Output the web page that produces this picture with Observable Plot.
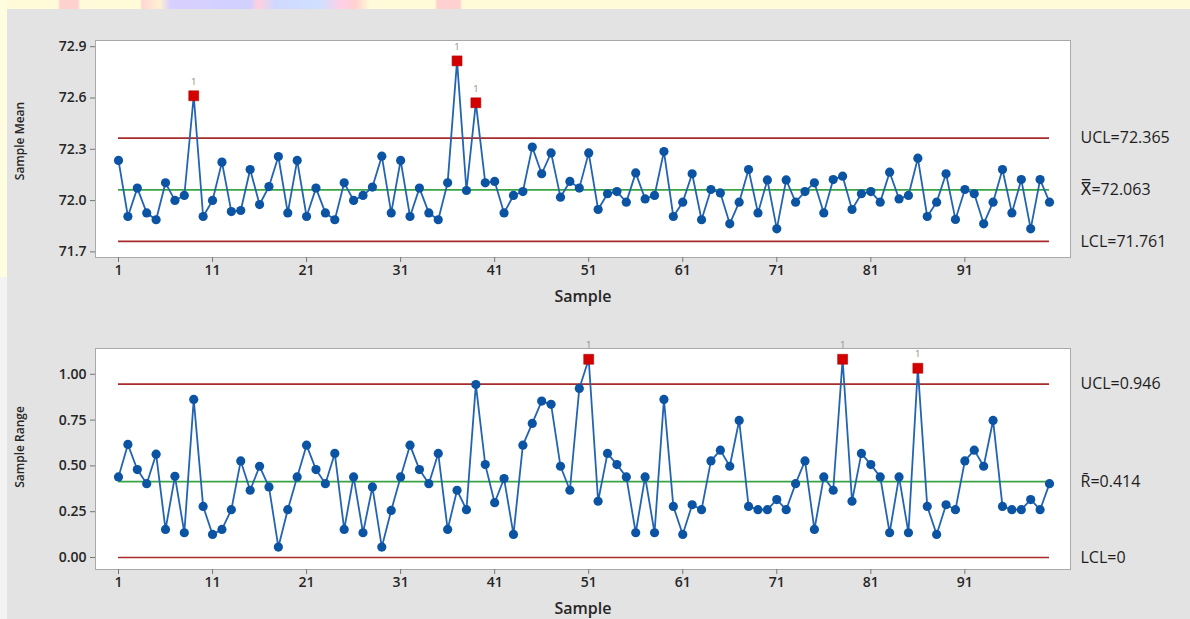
<!DOCTYPE html>
<html>
<head>
<meta charset="utf-8">
<script src="https://cdn.jsdelivr.net/npm/d3@7"></script>
<script src="https://cdn.jsdelivr.net/npm/@observablehq/plot@0.6"></script>
<style>
  html, body { margin: 0; padding: 0; }
  body { width: 1190px; height: 619px; overflow: hidden; background: #e3e3e3; position: relative; font-family: "Open Sans", "DejaVu Sans", sans-serif; }
  #strip { position: absolute; left: 0; top: 0; width: 1190px; height: 9px;
    background: linear-gradient(90deg, #fffbd8 0px, #fffbd8 58px, #ffd0d0 60px, #ffd0d0 78px, #fffbd8 80px, #fffbd8 140px, #ffd6d6 142px, #fff1d0 160px, #d8d0ff 170px, #d0d0ff 250px, #ffd0e0 258px, #d0d8ff 275px, #cfe0ff 320px, #ffd0e8 340px, #ffd0d0 355px, #fffbd8 370px, #fffbd8 435px, #ffd0d0 437px, #ffd0d0 460px, #fffbd8 462px, #fffbd8 1190px); }
  #leftTop { position: absolute; left: 0; top: 0; width: 7px; height: 277px; background: #fffde0; }
  #leftBot { position: absolute; left: 0; top: 277px; width: 7px; height: 342px; background: #f3f3f3; }
  #charts { position: absolute; left: 0; top: 0; }
  #charts svg { display: block; }
</style>
</head>
<body>
<div id="strip"></div>
<div id="leftTop"></div>
<div id="leftBot"></div>
<div id="charts"></div>
<script>
// ---- Data ----
const samples = d3.range(1, 101);

const sampleMean = [
  72.235, 71.907, 72.073, 71.928, 71.888, 72.104, 72.001, 72.030, 72.613, 71.907,
  72.001, 72.225, 71.936, 71.942, 72.182, 71.977, 72.082, 72.258, 71.928, 72.235,
  71.907, 72.073, 71.928, 71.888, 72.104, 72.001, 72.030, 72.079, 72.260, 71.928,
  72.235, 71.907, 72.073, 71.928, 71.888, 72.104, 72.817, 72.059, 72.572, 72.104,
  72.112, 71.928, 72.030, 72.053, 72.313, 72.157, 72.279, 72.020, 72.112, 72.073,
  72.279, 71.948, 72.040, 72.053, 71.991, 72.162, 72.010, 72.030, 72.287, 71.907,
  71.991, 72.157, 71.888, 72.065, 72.045, 71.864, 71.991, 72.182, 71.928, 72.121,
  71.835, 72.121, 71.991, 72.053, 72.104, 71.928, 72.123, 72.143, 71.948, 72.040,
  72.053, 71.991, 72.166, 72.010, 72.030, 72.248, 71.907, 71.991, 72.157, 71.890,
  72.065, 72.040, 71.864, 71.991, 72.182, 71.928, 72.123, 71.835, 72.123, 71.991
];

const sampleRange = [
  0.440, 0.617, 0.480, 0.403, 0.564, 0.153, 0.443, 0.135, 0.863, 0.279,
  0.126, 0.153, 0.261, 0.527, 0.367, 0.498, 0.385, 0.057, 0.261, 0.440,
  0.613, 0.480, 0.403, 0.568, 0.153, 0.440, 0.135, 0.385, 0.057, 0.257,
  0.440, 0.613, 0.480, 0.403, 0.568, 0.153, 0.367, 0.261, 0.944, 0.507,
  0.299, 0.431, 0.126, 0.613, 0.732, 0.854, 0.836, 0.498, 0.367, 0.923,
  1.082, 0.307, 0.568, 0.507, 0.440, 0.135, 0.440, 0.135, 0.863, 0.279,
  0.126, 0.288, 0.261, 0.527, 0.586, 0.498, 0.748, 0.279, 0.261, 0.261,
  0.316, 0.261, 0.403, 0.527, 0.153, 0.440, 0.367, 1.082, 0.307, 0.568,
  0.507, 0.440, 0.135, 0.440, 0.135, 1.033, 0.279, 0.126, 0.288, 0.261,
  0.527, 0.586, 0.498, 0.748, 0.279, 0.261, 0.261, 0.316, 0.261, 0.403
];

const meanFlagged = [9, 37, 39];
const rangeFlagged = [51, 78, 86];

const meanLimits = [72.365, 72.063, 71.761];   // UCL, center, LCL
const rangeLimits = [0.946, 0.414, 0];          // UCL, center, LCL

const meanLimitLabels = ["UCL=72.365", "X\u033F=72.063", "LCL=71.761"];
const rangeLimitLabels = ["UCL=0.946", "R\u0304=0.414", "LCL=0"];

const xTicks = [1, 11, 21, 31, 41, 51, 61, 71, 81, 91];
const meanTicks = [71.7, 72.0, 72.3, 72.6, 72.9];
const rangeTicks = [0.00, 0.25, 0.50, 0.75, 1.00];

// ---- Styles ----
const FONT = "'Open Sans', 'DejaVu Sans', sans-serif";
const BLUE_LINE = "#2364b2";
const BLUE_DOT = "#0b53a3";
const RED_LIMIT = "#a82a2a";
const GREEN_CL = "#3aa444";
const RED_FLAG = "#d40000";
const INK = "#262626";

function controlChart({values, flagged, limits, limitLabels, yTicks, yFormat, yDomain, yRange, title, titleDy, height, marginTop, marginBottom, xTitleDy}) {
  const data = samples.map((s, i) => ({sample: s, value: values[i], flag: flagged.includes(s)}));
  const normal = data.filter(d => !d.flag);
  const flags = data.filter(d => d.flag);
  const firstS = samples[0], lastS = samples[samples.length - 1];
  const limitRows = limits.map((v, i) => ({v, label: limitLabels[i], kind: i === 1 ? "cl" : "limit"}));
  return Plot.plot({
    width: 1190,
    height,
    marginTop,
    marginBottom,
    marginLeft: 95,
    marginRight: 120,
    style: {background: "transparent", fontFamily: FONT, fontSize: "14px", color: INK, overflow: "visible"},
    x: {domain: [firstS, lastS], range: [118, 1049], axis: null},
    y: {domain: yDomain, range: yRange, axis: null},
    marks: [
      Plot.frame({fill: "white", stroke: "#a9a9a9", strokeWidth: 1}),
      Plot.ruleY(limitRows.filter(d => d.kind === "limit"), {y: "v", x1: () => firstS, x2: () => lastS, stroke: RED_LIMIT, strokeWidth: 1.7}),
      Plot.ruleY(limitRows.filter(d => d.kind === "cl"), {y: "v", x1: () => firstS, x2: () => lastS, stroke: GREEN_CL, strokeWidth: 1.7}),
      Plot.line(data, {x: "sample", y: "value", stroke: BLUE_LINE, strokeWidth: 1.8}),
      Plot.dot(normal, {x: "sample", y: "value", r: 4.6, fill: BLUE_DOT, stroke: "none"}),
      Plot.dot(flags, {x: "sample", y: "value", symbol: "square", r: 5.6, fill: RED_FLAG, stroke: "#b00000", strokeWidth: 0.6}),
      Plot.text(flags, {x: "sample", y: "value", text: () => "1", dy: -14, fill: "#8f8c78", fontSize: 9.5, fontWeight: "normal"}),
      Plot.axisX({ticks: xTicks, tickSize: 5, tickPadding: 3, label: null, stroke: "#777", fill: INK, fontWeight: 600, fontSize: 14}),
      Plot.axisY({ticks: yTicks, tickFormat: yFormat, tickSize: 5, tickPadding: 4, label: null, stroke: "#777", fill: INK, fontWeight: 600, fontSize: 14}),
      Plot.text([title], {frameAnchor: "left", text: d => d, rotate: -90, dx: -75, dy: titleDy, textAnchor: "middle", fontSize: 12, fontWeight: 600, fill: INK}),
      Plot.text(["Sample"], {frameAnchor: "bottom", text: d => d, dy: xTitleDy, textAnchor: "middle", fontSize: 16, fontWeight: 600, fill: INK}),
      Plot.text(limitRows, {frameAnchor: "right", y: "v", text: "label", dx: 10, textAnchor: "start", fontSize: 16, fontWeight: "normal", fill: "#1e1e1e"})
    ]
  });
}

const topChart = controlChart({
  values: sampleMean, flagged: meanFlagged, limits: meanLimits, limitLabels: meanLimitLabels,
  yTicks: meanTicks, yFormat: d => d.toFixed(1),
  yDomain: [71.7, 72.9], yRange: [251.4, 46.2],
  title: "Sample Mean", titleDy: -8, height: 320, marginTop: 40, marginBottom: 63, xTitleDy: 44
});

const bottomChart = controlChart({
  values: sampleRange, flagged: rangeFlagged, limits: rangeLimits, limitLabels: rangeLimitLabels,
  yTicks: rangeTicks, yFormat: d => d.toFixed(2),
  yDomain: [0, 1], yRange: [237, 53.8],
  title: "Sample Range", titleDy: -12, height: 299, marginTop: 28, marginBottom: 50, xTitleDy: 44
});

const host = document.getElementById("charts");
host.appendChild(topChart);
host.appendChild(bottomChart);
</script>
</body>
</html>
